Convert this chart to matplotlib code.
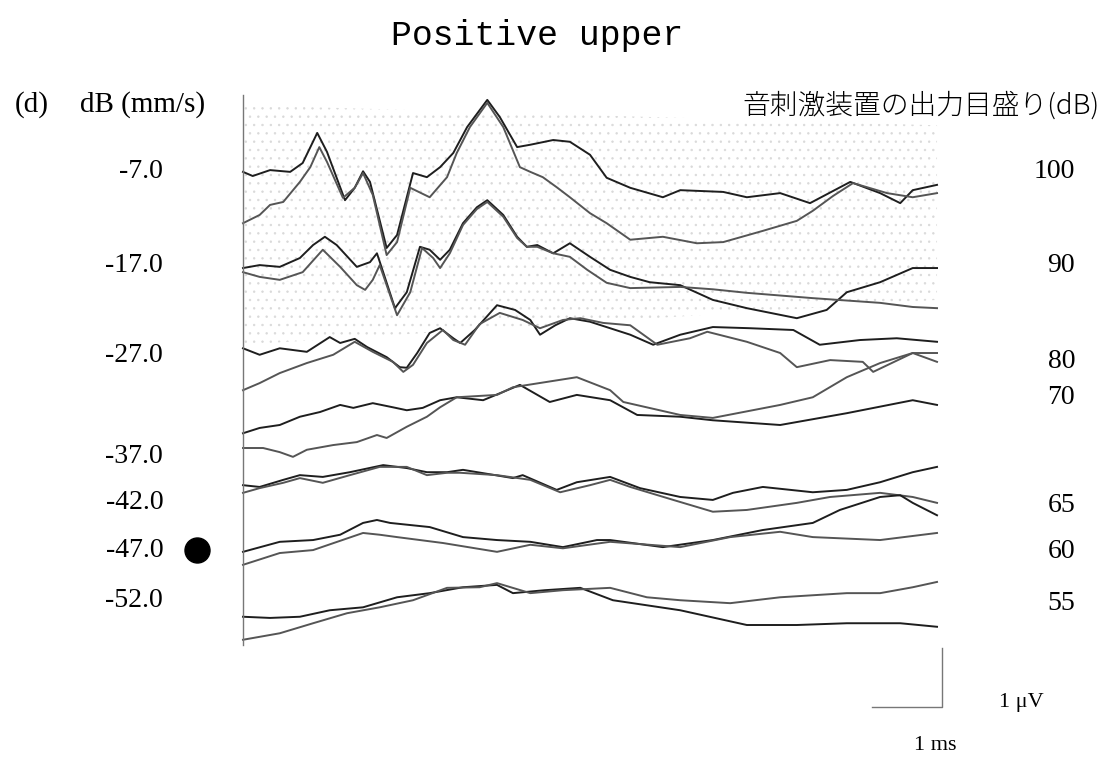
import matplotlib.pyplot as plt

plt.rcParams['hatch.linewidth'] = 0.5

title = 'Positive upper'
panel = '(d)'
left_header = 'dB (mm/s)'
right_header = '音刺激装置の出力目盛り(dB)'

# vibration level (left) and stimulator output setting (right) for each row
vib_labels = ['-7.0', '-17.0', '-27.0', '-37.0', '-42.0', '-47.0', '-52.0']
vib_rows = [9.07, 7.49, 5.95, 4.24, 3.47, 2.66, 1.81]
out_labels = ['100', '90', '80', '70', '65', '60', '55']
out_rows = [9.07, 7.49, 5.85, 5.24, 3.42, 2.63, 1.76]
marked = '-47.0'

# responses: (time in ms, amplitude in uV on the stacked display), two runs per level
run_100a = [(0, 9.07), (0.14, 9.00), (0.39, 9.10), (0.68, 9.07), (0.86, 9.22), (1.07, 9.73),
            (1.21, 9.41), (1.47, 8.59), (1.61, 8.80), (1.73, 9.08), (1.83, 8.90), (2.07, 7.78),
            (2.22, 8.00), (2.45, 9.05), (2.65, 8.98), (2.84, 9.15), (3.03, 9.39), (3.23, 9.83),
            (3.52, 10.29), (3.70, 10.00), (3.95, 9.49), (4.14, 9.53), (4.47, 9.61), (4.71, 9.58),
            (5.00, 9.36), (5.24, 8.97), (5.58, 8.80), (6.05, 8.64), (6.30, 8.76), (6.92, 8.73),
            (7.26, 8.64), (7.74, 8.71), (8.17, 8.54), (8.75, 8.90), (9.18, 8.71), (9.47, 8.54),
            (9.65, 8.76), (10.0, 8.85)]
run_100b = [(0, 8.20), (0.24, 8.34), (0.39, 8.51), (0.58, 8.56), (0.82, 8.90), (0.97, 9.15),
            (1.10, 9.49), (1.21, 9.24), (1.44, 8.63), (1.61, 8.80), (1.73, 9.05), (1.87, 8.68),
            (2.07, 7.66), (2.22, 7.88), (2.41, 8.80), (2.69, 8.64), (2.94, 8.98), (3.08, 9.39),
            (3.27, 9.83), (3.52, 10.24), (3.75, 9.83), (3.99, 9.15), (4.14, 9.07), (4.32, 8.98),
            (4.52, 8.81), (4.71, 8.64), (5.00, 8.37), (5.24, 8.20), (5.58, 7.92), (6.05, 7.97),
            (6.54, 7.86), (6.92, 7.88), (7.49, 8.07), (7.98, 8.24), (8.21, 8.41), (8.50, 8.66),
            (8.79, 8.88), (9.28, 8.71), (9.65, 8.64), (10.0, 8.71)]
run_90a = [(0, 7.44), (0.24, 7.49), (0.53, 7.46), (0.82, 7.61), (1.01, 7.83), (1.18, 7.97),
           (1.35, 7.83), (1.64, 7.46), (1.83, 7.54), (1.93, 7.69), (2.02, 7.37), (2.19, 6.76),
           (2.36, 7.03), (2.55, 7.80), (2.69, 7.75), (2.84, 7.58), (2.98, 7.75), (3.17, 8.20),
           (3.37, 8.47), (3.52, 8.59), (3.75, 8.34), (3.95, 7.97), (4.09, 7.80), (4.24, 7.83),
           (4.47, 7.69), (4.71, 7.86), (5.00, 7.63), (5.29, 7.41), (5.58, 7.29), (5.86, 7.20),
           (6.30, 7.15), (6.77, 6.90), (7.26, 6.76), (7.98, 6.59), (8.41, 6.73), (8.70, 7.03),
           (9.18, 7.20), (9.65, 7.44), (10.0, 7.44)]
run_90b = [(0, 7.37), (0.24, 7.29), (0.53, 7.24), (0.86, 7.37), (1.15, 7.75), (1.40, 7.46),
           (1.64, 7.15), (1.76, 7.07), (1.87, 7.24), (1.97, 7.49), (2.07, 7.15), (2.22, 6.64),
           (2.41, 7.03), (2.58, 7.78), (2.74, 7.61), (2.84, 7.44), (2.98, 7.69), (3.17, 8.17),
           (3.37, 8.44), (3.52, 8.56), (3.75, 8.31), (3.95, 7.95), (4.09, 7.80), (4.24, 7.80),
           (4.47, 7.69), (4.71, 7.63), (4.96, 7.41), (5.24, 7.19), (5.58, 7.10), (6.30, 7.12),
           (6.77, 7.08), (7.26, 7.02), (8.21, 6.93), (9.18, 6.85), (9.65, 6.78), (10.0, 6.76)]
run_80a = [(0, 6.08), (0.24, 5.97), (0.53, 6.08), (0.92, 6.02), (1.25, 6.27), (1.40, 6.17),
           (1.61, 6.24), (1.79, 6.10), (2.07, 5.93), (2.26, 5.76), (2.36, 5.75), (2.51, 6.00),
           (2.69, 6.34), (2.84, 6.42), (3.03, 6.25), (3.13, 6.17), (3.34, 6.39), (3.66, 6.81),
           (3.92, 6.73), (4.14, 6.56), (4.28, 6.31), (4.50, 6.47), (4.71, 6.59), (5.00, 6.53),
           (5.29, 6.42), (5.58, 6.31), (5.91, 6.14), (6.30, 6.31), (6.77, 6.44), (7.31, 6.42),
           (7.93, 6.39), (8.31, 6.14), (8.89, 6.22), (9.42, 6.25), (10.0, 6.19)]
run_80b = [(0, 5.37), (0.24, 5.49), (0.53, 5.66), (0.92, 5.83), (1.30, 5.97), (1.61, 6.19),
           (1.87, 6.02), (2.16, 5.85), (2.31, 5.68), (2.45, 5.80), (2.65, 6.17), (2.88, 6.39),
           (3.03, 6.22), (3.20, 6.14), (3.41, 6.49), (3.70, 6.68), (4.03, 6.56), (4.28, 6.42),
           (4.61, 6.56), (4.86, 6.59), (5.19, 6.51), (5.58, 6.47), (5.97, 6.14), (6.44, 6.25),
           (6.69, 6.36), (7.26, 6.19), (7.74, 6.00), (7.98, 5.76), (8.46, 5.88), (8.93, 5.85),
           (9.08, 5.68), (9.65, 6.00), (10.0, 5.85)]
run_70a = [(0, 4.64), (0.24, 4.73), (0.53, 4.78), (0.82, 4.92), (1.11, 5.00), (1.40, 5.12),
           (1.59, 5.07), (1.87, 5.15), (2.16, 5.08), (2.36, 5.03), (2.59, 5.07), (2.84, 5.20),
           (3.08, 5.25), (3.46, 5.20), (3.89, 5.41), (3.99, 5.46), (4.42, 5.17), (4.81, 5.29),
           (5.29, 5.20), (5.68, 4.95), (6.30, 4.92), (6.77, 4.86), (7.74, 4.78), (8.70, 4.98),
           (9.65, 5.20), (10.0, 5.12)]
run_70b = [(0, 4.39), (0.29, 4.39), (0.53, 4.32), (0.72, 4.24), (0.92, 4.36), (1.30, 4.44),
           (1.64, 4.49), (1.93, 4.61), (2.07, 4.56), (2.36, 4.75), (2.65, 4.92), (2.84, 5.08),
           (3.08, 5.25), (3.66, 5.29), (3.89, 5.42), (4.81, 5.59), (5.29, 5.37), (5.48, 5.17),
           (6.30, 4.95), (6.77, 4.90), (7.74, 5.12), (8.21, 5.25), (8.70, 5.59), (9.18, 5.83),
           (9.65, 6.00), (10.0, 6.00)]
run_65a = [(0, 3.76), (0.24, 3.73), (0.58, 3.85), (0.82, 3.93), (1.15, 3.90), (1.54, 3.98),
           (2.02, 4.10), (2.36, 4.05), (2.65, 3.98), (2.94, 3.98), (3.17, 4.02), (3.89, 3.88),
           (4.03, 3.93), (4.52, 3.68), (4.81, 3.81), (5.29, 3.90), (5.72, 3.71), (6.30, 3.56),
           (6.77, 3.51), (7.06, 3.63), (7.49, 3.73), (8.21, 3.64), (8.70, 3.68), (9.18, 3.81),
           (9.65, 3.98), (10.0, 4.07)]
run_65b = [(0, 3.63), (0.24, 3.71), (0.58, 3.80), (0.82, 3.88), (1.15, 3.80), (1.54, 3.93),
           (1.97, 4.07), (2.36, 4.07), (2.65, 3.93), (2.94, 3.97), (3.13, 3.97), (3.66, 3.93),
           (4.14, 3.85), (4.57, 3.64), (5.00, 3.76), (5.29, 3.85), (5.58, 3.73), (6.20, 3.51),
           (6.77, 3.31), (7.26, 3.34), (7.98, 3.46), (8.46, 3.56), (9.18, 3.63), (9.65, 3.56),
           (10.0, 3.46)]
run_60a = [(0, 2.63), (0.53, 2.80), (1.01, 2.83), (1.40, 2.92), (1.73, 3.12), (1.93, 3.17),
           (2.12, 3.12), (2.69, 3.05), (3.17, 2.88), (3.66, 2.83), (4.14, 2.80), (4.61, 2.71),
           (5.10, 2.83), (5.29, 2.83), (6.05, 2.71), (6.77, 2.83), (7.49, 3.00), (8.21, 3.12),
           (8.60, 3.34), (9.18, 3.56), (9.47, 3.59), (9.65, 3.46), (10.0, 3.25)]
run_60b = [(0, 2.41), (0.53, 2.61), (1.01, 2.66), (1.73, 2.95), (1.97, 2.92), (2.22, 2.88),
           (2.88, 2.78), (3.66, 2.63), (4.14, 2.75), (4.61, 2.69), (5.29, 2.80), (6.30, 2.71),
           (7.02, 2.88), (7.74, 2.97), (8.21, 2.88), (9.18, 2.83), (10.0, 2.95)]
run_55a = [(0, 1.53), (0.39, 1.51), (0.82, 1.53), (1.25, 1.64), (1.73, 1.69), (2.22, 1.86),
           (2.69, 1.93), (3.17, 2.03), (3.66, 2.07), (3.89, 1.93), (4.35, 1.98), (4.86, 2.02),
           (5.33, 1.81), (6.30, 1.64), (7.26, 1.39), (7.98, 1.39), (8.70, 1.42), (9.47, 1.42),
           (10.0, 1.36)]
run_55b = [(0, 1.14), (0.53, 1.25), (1.01, 1.42), (1.50, 1.59), (1.97, 1.69), (2.45, 1.81),
           (2.94, 2.02), (3.41, 2.03), (3.66, 2.10), (4.14, 1.93), (4.61, 1.98), (5.29, 2.02),
           (5.82, 1.86), (6.30, 1.81), (7.02, 1.76), (7.74, 1.86), (8.70, 1.93), (9.18, 1.93),
           (9.65, 2.03), (10.0, 2.12)]

runs = [(run_100a, run_100b), (run_90a, run_90b), (run_80a, run_80b), (run_70a, run_70b),
        (run_65a, run_65b), (run_60a, run_60b), (run_55a, run_55b)]

sweep_ms = 10
scale_ms = 1
scale_uv = 1

fig = plt.figure(figsize=(11.09, 7.58), dpi=100)
ax = fig.add_axes([0, 0, 1, 1])
ax.set_xlim(-3.501, 12.478)
ax.set_ylim(-0.864, 11.983)
ax.set_xticks([])
ax.set_yticks([])
for side in ['top', 'right', 'bottom']:
    ax.spines[side].set_visible(False)
ax.spines['left'].set_position(('data', 0))
ax.spines['left'].set_bounds(1.05, 10.37)
ax.spines['left'].set_color('#777777')
ax.spines['left'].set_linewidth(1.0)

# stippled background behind the upper responses
ax.fill_between([0, sweep_ms], [10.2, 9.86], [6.14, 6.9], facecolor='none',
                edgecolor='#d9d9d9', hatch='..', linewidth=0, zorder=0)

for first, second in runs:
    for run, color in [(first, '#1e1e1e'), (second, '#555555')]:
        t, v = zip(*run)
        ax.plot(t, v, color=color, lw=1.4, solid_joinstyle='round', zorder=2)

serif = 'Liberation Serif'
for label, row in zip(vib_labels, vib_rows):
    ax.text(-1.15, row, label, ha='right', va='center', fontsize=20, family=serif)
    if label == marked:
        ax.plot(-0.66, row, 'o', color='black', markersize=18)
for label, row in zip(out_labels, out_rows):
    ax.text(11.99, row, label, ha='right', va='center', fontsize=20, family=serif)

# scale bar
bar_t = sweep_ms + 0.07
ax.plot([bar_t - scale_ms, bar_t, bar_t], [0, 0, scale_uv], color='#777777', lw=1.0)
ax.text(10.9, 0.07, '1 μV', ha='left', va='center', fontsize=16, family=serif)
ax.text(bar_t - scale_ms / 2 + 0.4, -0.66, '1 ms', ha='center', va='center', fontsize=16, family=serif)

fig.text(537 / 1109, 1 - 35 / 758, title, ha='center', va='center', fontsize=25, family='Liberation Mono')
fig.text(15 / 1109, 1 - 105 / 758, panel, ha='left', va='center', fontsize=21, family=serif)
fig.text(80 / 1109, 1 - 105 / 758, left_header, ha='left', va='center', fontsize=21, family=serif)
fig.text(1100 / 1109, 1 - 105 / 758, right_header, ha='right', va='center', fontsize=20,
         weight='light', family=['Noto Sans CJK JP', 'DejaVu Sans'])

fig.savefig('out.png', dpi=100)
